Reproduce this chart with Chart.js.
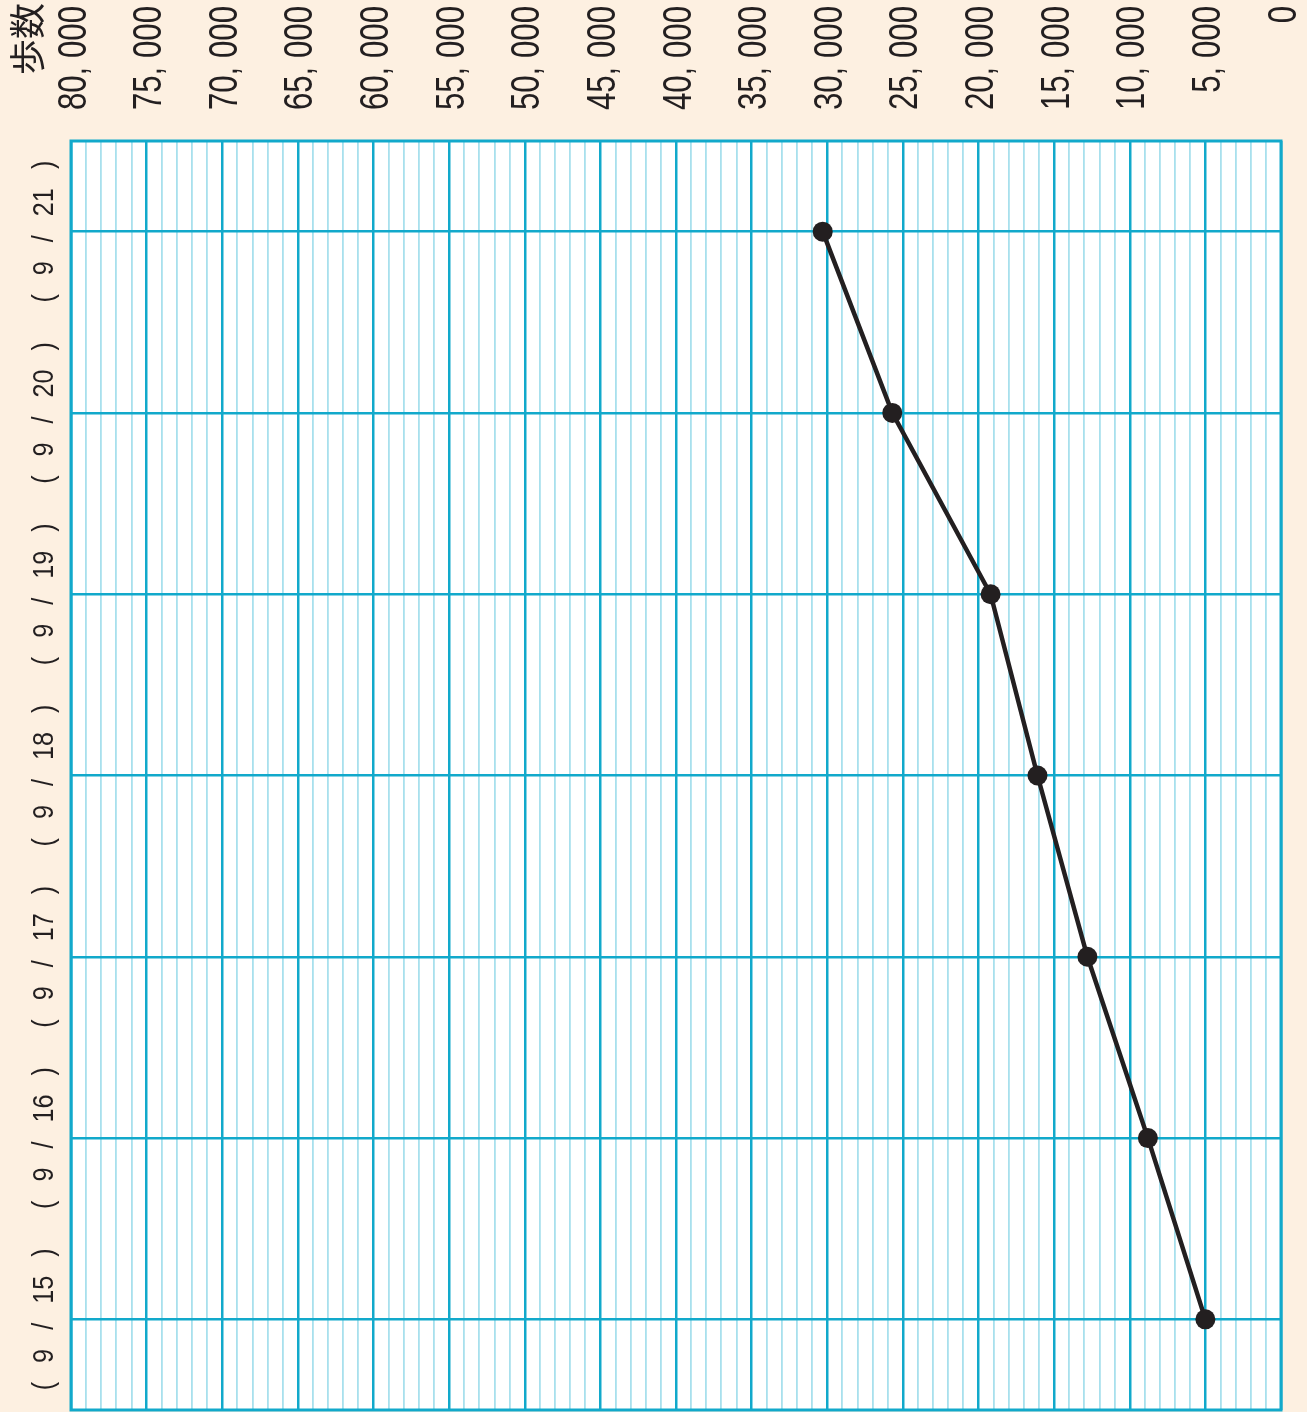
<!DOCTYPE html>
<html lang="ja">
  <head>
    <meta charset="UTF-8" />
    <title>歩数</title>
    <style>
      html, body { margin: 0; padding: 0; background: #fdf0e1; overflow: hidden; }
      canvas { display: block; }
    </style>
    <script src="https://cdn.jsdelivr.net/npm/chart.js@4"></script>
  </head>
  <body>
    <canvas id="myChart" width="1307" height="1412"></canvas>
    <script>
      // dates (bottom to top in the picture) and cumulative steps
      const days = ['( 9 / 15 )', '( 9 / 16 )', '( 9 / 17 )', '( 9 / 18 )', '( 9 / 19 )', '( 9 / 20 )', '( 9 / 21 )'];
      const steps = [5000, 8800, 12800, 16100, 19200, 25700, 30300];
      const stepTicks = [0, 5000, 10000, 15000, 20000, 25000, 30000, 35000, 40000, 45000, 50000, 55000, 60000, 65000, 70000, 75000, 80000];
      const stepLabels = ['0', '5, 000', '10, 000', '15, 000', '20, 000', '25, 000', '30, 000', '35, 000', '40, 000',
        '45, 000', '50, 000', '55, 000', '60, 000', '65, 000', '70, 000', '75, 000', '80, 000'];
      const axisTitle = '歩数';

      const numFont = "'Liberation Sans', Arial, sans-serif";
      const squeeze = 0.78; // narrow the figures like the printed ones
      const cyan = '#12a9cb';
      const paleCyan = '#a8e0ed';

      const paper = {
        id: 'paper',
        beforeDraw(chart) {
          const { ctx, chartArea: a } = chart;
          ctx.save();
          ctx.fillStyle = '#fdf0e1';
          ctx.fillRect(0, 0, chart.width, chart.height);
          ctx.fillStyle = '#ffffff';
          ctx.fillRect(a.left, a.top, a.right - a.left, a.bottom - a.top);
          ctx.restore();
        },
        beforeDatasetsDraw(chart) {
          const { ctx, chartArea: a } = chart;
          ctx.save();
          ctx.strokeStyle = cyan;
          ctx.lineWidth = 3;
          ctx.strokeRect(a.left, a.top, a.right - a.left, a.bottom - a.top);
          ctx.restore();
        },
        afterDraw(chart) {
          const ctx = chart.ctx;
          const xs = chart.scales.x;
          const ys = chart.scales.y;
          ctx.save();
          ctx.fillStyle = '#231f20';

          // value labels, reading upward, ends lined up at the top
          ctx.font = '40px ' + numFont;
          ctx.textAlign = 'right';
          ctx.textBaseline = 'alphabetic';
          stepTicks.forEach((v, i) => {
            const x = xs.getPixelForValue(v);
            ctx.save();
            ctx.translate(x + 14.5, 6);
            ctx.rotate(-Math.PI / 2);
            ctx.scale(squeeze, 1);
            ctx.fillText(stepLabels[i], 0, 0);
            ctx.restore();
          });

          // date labels on the left, pieces spread out
          ctx.font = '30px ' + numFont;
          ctx.textAlign = 'left';
          const dateSqueeze = 0.84;
          const gap = 19;
          days.forEach((d, i) => {
            const y = ys.getPixelForValue(i);
            const parts = d.split(' ');
            const widths = parts.map(p => ctx.measureText(p).width * dateSqueeze);
            const total = widths.reduce((s, w) => s + w, 0) + gap * (parts.length - 1);
            ctx.save();
            ctx.translate(53, y);
            ctx.rotate(-Math.PI / 2);
            let pos = -total / 2;
            parts.forEach((p, k) => {
              ctx.save();
              ctx.translate(pos, 0);
              ctx.scale(dateSqueeze, 1);
              ctx.fillText(p, 0, 0);
              ctx.restore();
              pos += widths[k] + gap;
            });
            ctx.restore();
          });

          // axis title
          ctx.font = "36px 'Noto Sans CJK JP', sans-serif";
          ctx.textAlign = 'right';
          ctx.textBaseline = 'middle';
          ctx.translate(27, 3);
          ctx.rotate(-Math.PI / 2);
          ctx.fillText(axisTitle, 0, 0);
          ctx.restore();
        }
      };

      const ctx = document.getElementById('myChart').getContext('2d');
      const myChart = new Chart(ctx, {
        type: 'line',
        data: {
          labels: days,
          datasets: [
            {
              label: axisTitle,
              data: steps,
              borderColor: '#231f20',
              backgroundColor: '#231f20',
              borderWidth: 4.5,
              pointRadius: 10,
              pointHoverRadius: 10,
              pointBackgroundColor: '#231f20',
              pointBorderWidth: 0,
              tension: 0,
              fill: false
            }
          ]
        },
        options: {
          indexAxis: 'y',
          responsive: false,
          animation: false,
          devicePixelRatio: 1,
          layout: { autoPadding: false, padding: { left: 71, top: 141, right: 26, bottom: 2 } },
          plugins: {
            legend: { display: false },
            tooltip: { enabled: false }
          },
          scales: {
            x: {
              type: 'linear',
              position: 'top',
              reverse: true,
              min: 0,
              max: 80000,
              ticks: { display: false, stepSize: 1000 },
              border: { display: false },
              grid: {
                drawTicks: false,
                color: c => (c.tick && c.tick.value % 5000 === 0 ? cyan : paleCyan),
                lineWidth: c => (c.tick && c.tick.value % 5000 === 0 ? 2.5 : 1.8)
              }
            },
            y: {
              type: 'category',
              reverse: true,
              offset: true,
              ticks: { display: false },
              border: { display: false },
              grid: { drawTicks: false, offset: false, color: cyan, lineWidth: 2.5 }
            }
          }
        },
        plugins: [paper]
      });
    </script>
  </body>
</html>
